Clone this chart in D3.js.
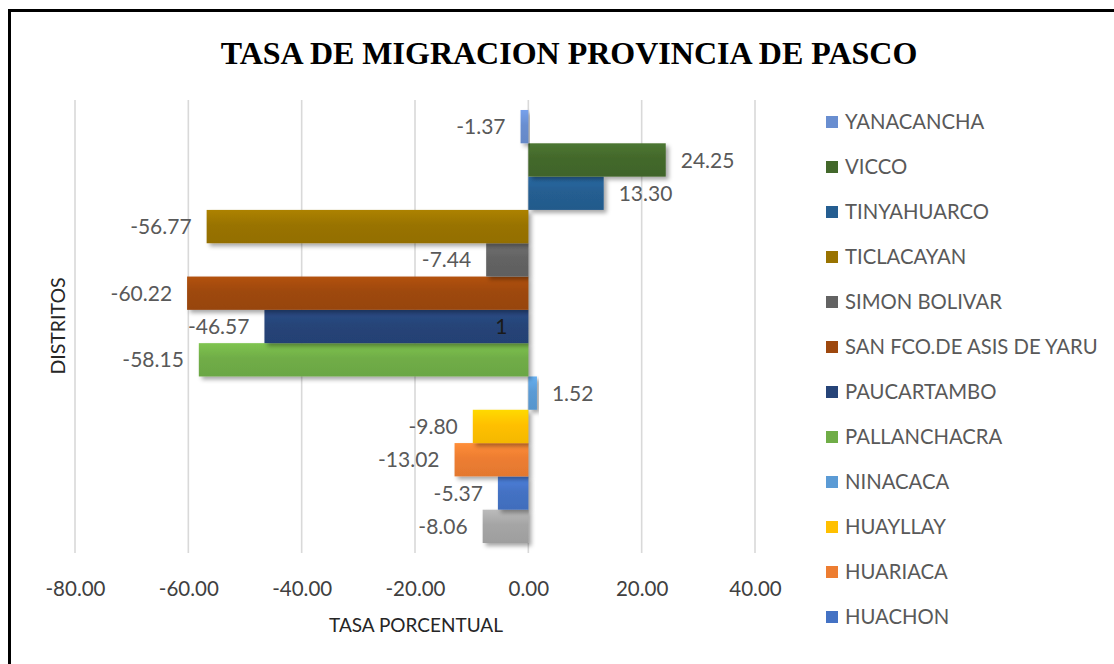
<!DOCTYPE html>
<html>
<head>
<meta charset="utf-8">
<script src="https://cdn.jsdelivr.net/npm/d3@7"></script>
<style>
  html, body { margin: 0; padding: 0; background: #fff; }
  svg { display: block; }
</style>
</head>
<body>
<svg id="chart" width="1114" height="664"></svg>
<script>
// Districts of Pasco province, in series order (first series is drawn at the bottom)
const districts = [
  "CHAUPIMARCA", "HUACHON", "HUARIACA", "HUAYLLAY", "NINACACA", "PALLANCHACRA",
  "PAUCARTAMBO", "SAN FCO.DE ASIS DE YARU", "SIMON BOLIVAR", "TICLACAYAN",
  "TINYAHUARCO", "VICCO", "YANACANCHA"
];
// Migration rate (%) per district
const rates = [-8.06, -5.37, -13.02, -9.80, 1.52, -58.15, -46.57, -60.22, -7.44, -56.77, 13.30, 24.25, -1.37];
// Series fill colours
const colors = [
  "#A5A5A5", "#4472C4", "#ED7D31", "#FFC000", "#5B9BD5", "#70AD47",
  "#264478", "#9E480E", "#636363", "#997300", "#255E91", "#43682B", "#698ED0"
];
// Entries listed in the legend, top to bottom
const legendNames = [
  "YANACANCHA", "VICCO", "TINYAHUARCO", "TICLACAYAN", "SIMON BOLIVAR",
  "SAN FCO.DE ASIS DE YARU", "PAUCARTAMBO", "PALLANCHACRA", "NINACACA",
  "HUAYLLAY", "HUARIACA", "HUACHON"
];
const xTicks = [-80, -60, -40, -20, 0, 20, 40];
const xDomain = [-80, 40];

// Two decimals with a plain hyphen for negatives
const fmt = d3.formatLocale({ decimal: ".", thousands: ",", grouping: [3], currency: ["", ""], minus: "-" }).format(".2f");

const svg = d3.select("#chart");
const defs = svg.append("defs");

const plot = { left: 75, right: 755, top: 100, bottom: 553 };

const x = d3.scaleLinear().domain(xDomain).range([plot.left, plot.right]);
const y = d3.scaleBand().domain(districts).range([plot.bottom, plot.top]).paddingInner(0).paddingOuter(0.3);
const colorOf = d3.scaleOrdinal().domain(districts).range(colors);

// Outer frame
svg.append("rect")
  .attr("x", 9.5).attr("y", 10.5).attr("width", 1200).attr("height", 700)
  .attr("fill", "none").attr("stroke", "#000").attr("stroke-width", 3);

// Title
svg.append("text")
  .attr("x", 569).attr("y", 64)
  .attr("text-anchor", "middle")
  .attr("font-family", "'Liberation Serif', 'Times New Roman', serif")
  .attr("font-weight", "bold")
  .attr("font-size", 32)
  .attr("fill", "#000")
  .text("TASA DE MIGRACION PROVINCIA DE PASCO");

// Vertical gridlines
svg.append("g")
  .selectAll("line")
  .data(xTicks)
  .join("line")
  .attr("x1", d => x(d)).attr("x2", d => x(d))
  .attr("y1", plot.top).attr("y2", plot.bottom)
  .attr("stroke", "#d9d9d9").attr("stroke-width", 1.6);

// Tick labels via d3 axis
const axis = d3.axisBottom(x).tickValues(xTicks).tickFormat(fmt).tickSize(0).tickPadding(0);
const axisG = svg.append("g").attr("transform", `translate(0, ${plot.bottom + 43})`).call(axis);
axisG.select(".domain").remove();
axisG.selectAll("text")
  .attr("dy", null)
  .attr("font-family", "Lato, 'Open Sans', sans-serif")
  .attr("font-size", 20.5)
  .attr("fill", "#404040");

// Axis titles
svg.append("text")
  .attr("x", 416).attr("y", 632)
  .attr("text-anchor", "middle")
  .attr("font-family", "Lato, 'Open Sans', sans-serif")
  .attr("font-size", 19)
  .attr("fill", "#262626")
  .text("TASA PORCENTUAL");

svg.append("text")
  .attr("transform", "translate(65, 326) rotate(-90)")
  .attr("text-anchor", "middle")
  .attr("font-family", "Lato, 'Open Sans', sans-serif")
  .attr("font-size", 19.5)
  .attr("fill", "#262626")
  .text("DISTRITOS");

// Bar shading and shadow
const shadow = defs.append("filter").attr("id", "barShadow")
  .attr("x", "-10%").attr("y", "-20%").attr("width", "130%").attr("height", "160%");
shadow.append("feDropShadow")
  .attr("dx", 3).attr("dy", 3).attr("stdDeviation", 2)
  .attr("flood-color", "#000").attr("flood-opacity", 0.35);

districts.forEach((d, i) => {
  const base = d3.color(colorOf(d));
  const g = defs.append("linearGradient").attr("id", "grad" + i)
    .attr("x1", 0).attr("y1", 0).attr("x2", 0).attr("y2", 1);
  g.append("stop").attr("offset", "0%").attr("stop-color", base.brighter(0.35).formatHex());
  g.append("stop").attr("offset", "45%").attr("stop-color", base.formatHex());
  g.append("stop").attr("offset", "100%").attr("stop-color", base.darker(0.12).formatHex());
});

const data = districts.map((d, i) => ({ name: d, value: rates[i], idx: i }));

svg.append("g")
  .selectAll("rect")
  .data(data)
  .join("rect")
  .attr("x", d => x(Math.min(0, d.value)))
  .attr("width", d => Math.abs(x(d.value) - x(0)))
  .attr("y", d => y(d.name))
  .attr("height", y.bandwidth())
  .attr("fill", d => `url(#grad${d.idx})`)
  .attr("filter", "url(#barShadow)");

// Value labels
svg.append("g")
  .selectAll("text")
  .data(data)
  .join("text")
  .attr("x", d => d.value >= 0 ? x(d.value) + 15 : x(d.value) - 15)
  .attr("y", d => y(d.name) + y.bandwidth() / 2)
  .attr("dy", "0.36em")
  .attr("text-anchor", d => d.value >= 0 ? "start" : "end")
  .attr("font-family", "Lato, 'Open Sans', sans-serif")
  .attr("font-size", 21)
  .attr("fill", "#595959")
  .text(d => fmt(d.value));

// Stray label inside the PAUCARTAMBO bar
svg.append("text")
  .attr("x", x(-3.7))
  .attr("y", y("PAUCARTAMBO") + y.bandwidth() / 2)
  .attr("dy", "0.36em")
  .attr("text-anchor", "end")
  .attr("font-family", "Lato, 'Open Sans', sans-serif")
  .attr("font-size", 21)
  .attr("fill", "#1a1a1a")
  .text("1");

// Legend
const ly = d3.scalePoint().domain(legendNames).range([122, 617]);
const legend = svg.append("g")
  .selectAll("g")
  .data(legendNames)
  .join("g")
  .attr("transform", d => `translate(826, ${ly(d)})`);
legend.append("rect")
  .attr("x", 0).attr("y", -6).attr("width", 12).attr("height", 12)
  .attr("fill", d => colorOf(d));
legend.append("text")
  .attr("x", 19).attr("dy", "0.36em")
  .attr("font-family", "Lato, 'Open Sans', sans-serif")
  .attr("font-size", 20.3)
  .attr("fill", "#595959")
  .text(d => d);
</script>
</body>
</html>
